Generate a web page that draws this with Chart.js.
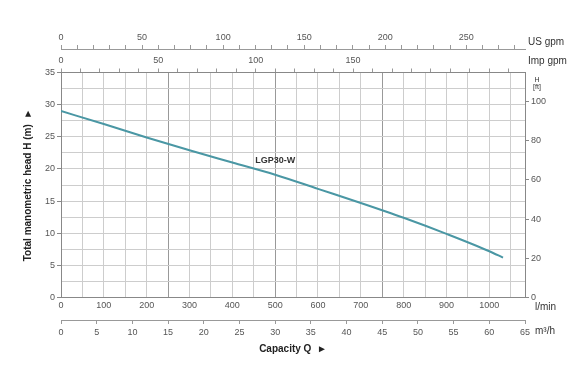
<!DOCTYPE html>
<html>
<head>
<meta charset="utf-8">
<script src="https://cdn.jsdelivr.net/npm/chart.js@4"></script>
<style>
  body { margin: 0; background: #fff; }
  #wrap { width: 580px; height: 387px; }
</style>
</head>
<body>
<div id="wrap"><canvas id="pump-chart"></canvas></div>
<script>
// pump curve LGP30-W, capacity in l/min, head in m
const flowLmin = [0, 100, 200, 300, 400, 500, 600, 700, 800, 900, 1000, 1032];
const headM = [29.0, 27.0, 24.9, 22.9, 21.0, 19.1, 16.9, 14.7, 12.4, 9.9, 7.2, 6.2];
const curveName = 'LGP30-W';

// tick labels
const lminLabels = [0, 100, 200, 300, 400, 500, 600, 700, 800, 900, 1000];
const m3hLabels = [0, 5, 10, 15, 20, 25, 30, 35, 40, 45, 50, 55, 60, 65];
const usGpmLabels = [0, 50, 100, 150, 200, 250];
const impGpmLabels = [0, 50, 100, 150];
const headLabels = [0, 5, 10, 15, 20, 25, 30, 35];
const ftLabels = [0, 20, 40, 60, 80, 100];
const heavyGridLmin = [250, 500, 750];

const Q_MAX_M3H = 65;
const Q_MAX_LMIN = Q_MAX_M3H * 1000 / 60;
const H_MAX = 35;

function range(from, to, step) {
    const out = [];
    for (let v = from; v <= to + 1e-9; v += step) out.push(Math.round(v * 1000) / 1000);
    return out;
}
function setTicks(values) {
    return scale => { scale.ticks = values.map(v => ({ value: v })); };
}
function only(list) {
    return v => list.includes(v) ? v : '';
}

const tickFont = { family: 'Liberation Sans', size: 9 };
const titleFont = { family: 'Liberation Sans', size: 10, weight: 'bold' };

const unitLabels = {
    id: 'unitLabels',
    afterDraw(chart) {
        const { ctx, chartArea, scales } = chart;
        ctx.save();
        ctx.fillStyle = '#333';
        ctx.textBaseline = 'middle';
        ctx.textAlign = 'left';
        ctx.font = '10px Liberation Sans';
        ctx.fillText('US gpm', chartArea.right + 3, scales.xUs.bottom - 7);
        ctx.fillText('Imp gpm', chartArea.right + 3, scales.xImp.bottom - 11);
        ctx.fillText('l/min', chartArea.right + 10, scales.x.top + 10);
        ctx.fillText('m\u00b3/h', chartArea.right + 10, scales.xM3h.top + 11);
        ctx.textAlign = 'center';
        ctx.font = '7px Liberation Sans';
        ctx.fillText('H', chartArea.right + 12, chartArea.top + 8);
        ctx.fillText('[ft]', chartArea.right + 12, chartArea.top + 15);
        ctx.font = 'bold 9px Liberation Sans';
        ctx.fillText(curveName, scales.x.getPixelForValue(500), scales.y.getPixelForValue(21.3));
        ctx.restore();
    }
};

new Chart(document.getElementById('pump-chart').getContext('2d'), {
    type: 'line',
    data: {
        datasets: [{
            label: curveName,
            data: flowLmin.map((q, i) => ({ x: q, y: headM[i] })),
            borderColor: '#4a97a4',
            borderWidth: 2,
            pointRadius: 0,
            cubicInterpolationMode: 'monotone',
            fill: false
        }]
    },
    options: {
        responsive: true,
        maintainAspectRatio: false,
        animation: false,
        layout: { padding: { left: 14, right: 30, top: 28, bottom: 31 } },
        plugins: { legend: { display: false }, tooltip: { enabled: false } },
        scales: {
            x: {
                type: 'linear', position: 'bottom', weight: 0,
                min: 0, max: Q_MAX_LMIN,
                afterBuildTicks: setTicks(range(0, 1050, 50)),
                afterFit: s => { s.height = 22.5; },
                ticks: { callback: only(lminLabels), autoSkip: false, maxRotation: 0, font: tickFont, color: '#555', padding: 3 },
                grid: {
                    color: c => c.tick && heavyGridLmin.includes(c.tick.value) ? '#999' : '#cdcdcd',
                    drawTicks: false
                },
                border: { color: '#888' }
            },
            xM3h: {
                type: 'linear', position: 'bottom', weight: 1,
                min: 0, max: Q_MAX_M3H,
                afterBuildTicks: setTicks(m3hLabels),
                afterFit: s => { s.height = 36; },
                ticks: { callback: only(m3hLabels), autoSkip: false, maxRotation: 0, font: tickFont, color: '#555', padding: 3 },
                grid: { drawOnChartArea: false, tickLength: 4, tickColor: '#999' },
                border: { color: '#999' },
                title: { display: true, text: 'Capacity Q  \u25ba', font: titleFont, color: '#222', padding: { top: 4, bottom: 1 } }
            },
            xImp: {
                type: 'linear', position: 'top', weight: 0,
                min: 0, max: Q_MAX_LMIN / 4.54609,
                afterBuildTicks: setTicks(range(0, 230, 10)),
                afterFit: s => { s.height = 23.5; },
                ticks: { callback: only(impGpmLabels), autoSkip: false, maxRotation: 0, font: tickFont, color: '#555', padding: 3 },
                grid: { drawOnChartArea: false, tickLength: 4, tickColor: '#999' },
                border: { color: '#888' }
            },
            xUs: {
                type: 'linear', position: 'top', weight: 1,
                min: 0, max: Q_MAX_LMIN / 3.78541,
                afterBuildTicks: setTicks(range(0, 280, 10)),
                afterFit: s => { s.height = 21; },
                ticks: { callback: only(usGpmLabels), autoSkip: false, maxRotation: 0, font: tickFont, color: '#555', padding: 2 },
                grid: { drawOnChartArea: false, tickLength: 4, tickColor: '#999' },
                border: { color: '#999' }
            },
            y: {
                type: 'linear', position: 'left',
                min: 0, max: H_MAX,
                afterBuildTicks: setTicks(range(0, 35, 2.5)),
                afterFit: s => { s.width = 47; },
                ticks: { callback: only(headLabels), autoSkip: false, font: tickFont, color: '#555', padding: 2 },
                grid: {
                    color: '#cdcdcd',
                    tickLength: 4,
                    tickColor: c => c.tick && c.tick.value % 5 === 0 ? '#888' : 'rgba(0,0,0,0)'
                },
                border: { color: '#888' },
                title: { display: true, text: 'Total manometric head H (m)  \u25ba', font: titleFont, color: '#222', padding: { top: 8, bottom: 0 } }
            },
            yFt: {
                type: 'linear', position: 'right',
                min: 0, max: H_MAX / 0.3048,
                afterBuildTicks: setTicks(ftLabels),
                afterFit: s => { s.width = 25; },
                ticks: { callback: only(ftLabels), autoSkip: false, font: tickFont, color: '#555', padding: 2 },
                grid: { drawOnChartArea: false, tickLength: 4, tickColor: '#888' },
                border: { color: '#888' }
            }
        }
    },
    plugins: [unitLabels]
});
</script>
</body>
</html>
